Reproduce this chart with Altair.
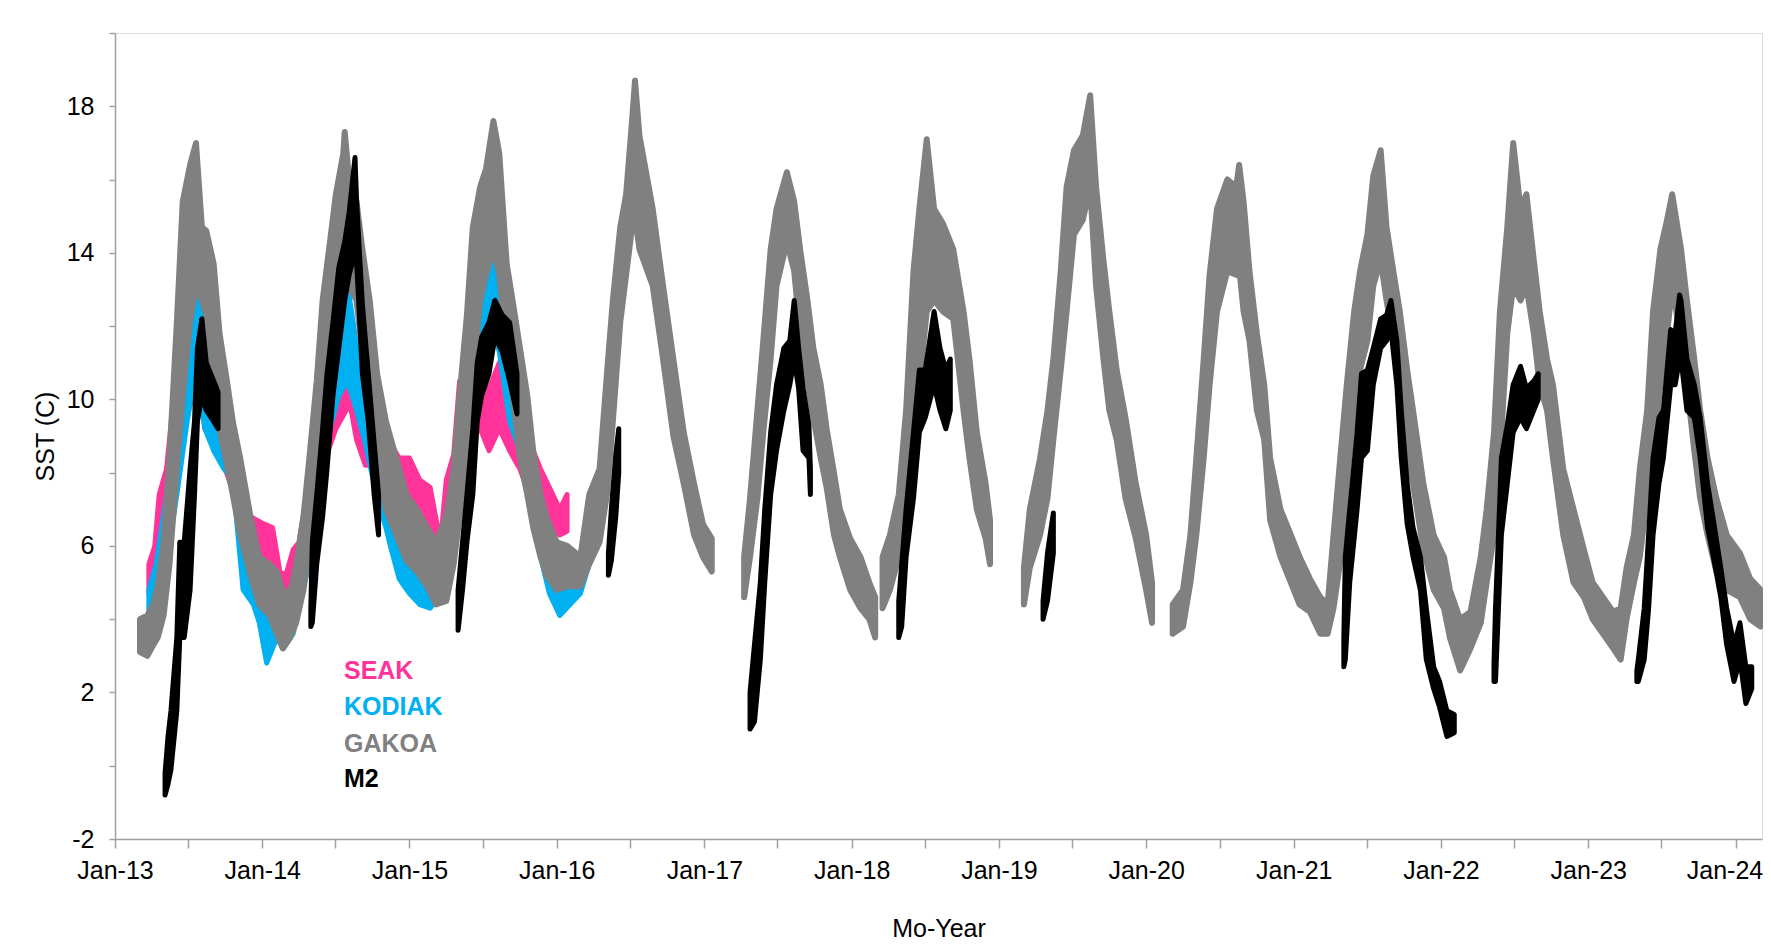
import altair as alt
import pandas as pd

SERIES = ["SEAK", "KODIAK", "GAKOA", "M2"]
COLORS = ["#FF3399", "#00B0F0", "#808080", "#000000"]

# ---- SEAK (decimal year, low / high of the point cloud), None = gap ----
SEAK_T = [2013.23, 2013.27, 2013.30, 2013.35, 2013.40, 2013.46, 2013.53, 2013.58, 2013.61, 2013.67,
          2013.74, 2013.80, 2013.86, 2013.92, 2014.01, 2014.07, 2014.12, 2014.16, 2014.21, 2014.25,
          2014.30, 2014.37, 2014.43, 2014.50, 2014.57, 2014.60, 2014.64, 2014.70, 2014.78, 2014.87,
          2014.93, 2015.00, 2015.07, 2015.14, 2015.21, 2015.25, 2015.30, 2015.34, 2015.41, 2015.48,
          2015.54, 2015.61, 2015.68, 2015.75, 2015.82, 2015.89, 2015.95, 2016.02, 2016.07]
SEAK_LO = [4.7, 5.1, 6.1, 6.8, 8.1, 9.2, 10.1, 10.7, 9.2, 8.8,
           8.2, 7.5, 6.5, 6.0, 5.7, 5.5, 4.4, 4.5, 4.8, 5.2,
           6.1, 7.4, 8.4, 9.2, 9.7, 9.8, 8.9, 8.2, 8.2, 7.4,
           6.8, 7.0, 6.5, 5.9, 5.6, 6.8, 7.0, 8.8, 9.2, 9.2,
           8.6, 9.2, 8.6, 8.1, 7.3, 7.0, 6.5, 6.3, 6.4]
SEAK_HI = [5.5, 6.0, 7.4, 8.1, 10.1, 11.3, 12.3, 12.9, 10.1, 10.0,
           9.0, 8.4, 7.2, 6.8, 6.6, 6.5, 5.3, 5.2, 5.9, 6.1,
           7.4, 8.8, 10.1, 10.5, 11.0, 11.1, 10.5, 9.4, 9.2, 8.8,
           8.4, 8.4, 7.8, 7.6, 6.1, 7.8, 8.5, 10.5, 10.7, 10.5,
           10.3, 11.0, 10.0, 9.4, 8.8, 8.1, 7.6, 7.0, 7.4]

# ---- KODIAK ----
KODIAK_T = [2013.23, 2013.28, 2013.35, 2013.42, 2013.49, 2013.55, 2013.61, 2013.67, 2013.74, 2013.80,
            2013.87, 2013.94, 2013.98, 2014.03, 2014.10, 2014.14, 2014.21, 2014.25, 2014.32, 2014.39,
            2014.46, 2014.52, 2014.58, 2014.64, 2014.70, 2014.78, 2014.84, 2014.87, 2014.93, 2015.00,
            2015.07, 2015.14, 2015.21, 2015.28, 2015.34, 2015.41, 2015.48, 2015.54, 2015.56, 2015.61,
            2015.68, 2015.75, 2015.82, 2015.89, 2015.95, 2016.02, 2016.09, 2016.16, 2016.22, 2016.29]
KODIAK_LO = [4.0, 4.4, 5.5, 7.4, 9.4, 10.8, 9.2, 8.6, 8.1, 7.8,
             4.8, 4.4, 3.9, 2.8, 3.5, 3.2, 3.6, 4.4, 5.5, 7.4,
             9.2, 10.1, 10.5, 9.7, 8.8, 7.3, 6.5, 6.0, 5.1, 4.7,
             4.4, 4.3, 4.7, 5.5, 6.8, 8.8, 10.5, 11.4, 12.0, 11.3,
             9.4, 8.6, 7.3, 5.7, 4.7, 4.1, 4.4, 4.7, 5.5, 6.8]
KODIAK_HI = [4.8, 5.5, 7.4, 10.1, 12.1, 13.7, 11.4, 10.1, 8.8, 8.6,
             6.5, 5.5, 4.8, 4.1, 4.7, 4.4, 4.8, 5.7, 8.1, 9.7,
             11.3, 12.3, 13.1, 11.5, 10.1, 8.6, 7.7, 7.4, 6.8, 6.2,
             6.1, 6.0, 6.2, 7.4, 9.2, 11.4, 12.7, 13.7, 14.1, 13.1,
             11.3, 10.1, 8.6, 7.4, 6.0, 5.3, 5.5, 5.5, 6.8, 7.8]

# ---- GAKOA ----
GAKOA_T = [2013.17, 2013.22, 2013.26, 2013.29, 2013.33, 2013.37, 2013.42, 2013.46, 2013.51, 2013.55,
           2013.59, 2013.62, 2013.67, 2013.71, 2013.76, 2013.80, 2013.85, 2013.92, 2013.98, 2014.05,
           2014.10, 2014.14, 2014.19, 2014.23, 2014.28, 2014.32, 2014.37, 2014.41, 2014.46, 2014.50,
           2014.55, 2014.56, 2014.59, 2014.64, 2014.68, 2014.73, 2014.78, 2014.84, 2014.91, 2014.98,
           2015.05, 2015.12, 2015.18, 2015.25, 2015.30, 2015.34, 2015.39, 2015.43, 2015.48, 2015.52,
           2015.57, 2015.61, 2015.66, 2015.70, 2015.75, 2015.80, 2015.84, 2015.89, 2015.93, 2016.00,
           2016.07, 2016.16, 2016.22, 2016.29, 2016.34, 2016.38, 2016.43, 2016.47, 2016.51, 2016.53,
           2016.56, 2016.65, 2016.72, 2016.79, 2016.86, 2016.93, 2016.99, 2017.05, None,
           2017.27, 2017.31, 2017.36, 2017.40, 2017.45, 2017.49, 2017.56, 2017.61, 2017.65, 2017.70,
           2017.74, 2017.79, 2017.83, 2017.88, 2017.92, 2017.99, 2018.06, 2018.12, 2018.16, None,
           2018.21, 2018.26, 2018.32, 2018.37, 2018.42, 2018.46, 2018.51, 2018.56, 2018.62, 2018.69,
           2018.76, 2018.80, 2018.85, 2018.91, 2018.94, None,
           2019.17, 2019.21, 2019.28, 2019.33, 2019.37, 2019.42, 2019.46, 2019.51, 2019.57, 2019.62,
           2019.66, 2019.71, 2019.75, 2019.80, 2019.86, 2019.93, 2020.00, 2020.04, None,
           2020.18, 2020.25, 2020.30, 2020.34, 2020.39, 2020.43, 2020.48, 2020.55, 2020.61, 2020.63,
           2020.66, 2020.70, 2020.75, 2020.80, 2020.84, 2020.91, 2020.98, 2021.04, 2021.11, 2021.18,
           2021.23, 2021.27, 2021.32, 2021.36, 2021.41, 2021.45, 2021.50, 2021.54, 2021.59, 2021.63,
           2021.68, 2021.72, 2021.77, 2021.81, 2021.88, 2021.95, 2022.02, 2022.06, 2022.13, 2022.20,
           2022.27, 2022.31, 2022.36, 2022.40, 2022.45, 2022.49, 2022.54, 2022.58, 2022.63, 2022.67,
           2022.72, 2022.76, 2022.83, 2022.90, 2022.97, 2023.03, 2023.10, 2023.17, 2023.22, 2023.26,
           2023.31, 2023.35, 2023.40, 2023.44, 2023.49, 2023.53, 2023.57, 2023.63, 2023.67, 2023.72,
           2023.76, 2023.81, 2023.87, 2023.94, 2024.03, 2024.10, 2024.17]
GAKOA_LO = [3.1, 3.0, 3.3, 3.5, 4.1, 5.5, 8.1, 10.1, 12.1, 13.1,
            12.7, 12.3, 10.5, 9.2, 8.2, 7.4, 6.3, 5.2, 4.4, 4.1,
            3.6, 3.2, 3.5, 3.9, 4.8, 6.0, 7.4, 9.4, 10.7, 12.7,
            13.4, 13.6, 13.1, 12.7, 11.3, 9.7, 8.4, 7.0, 6.3, 5.6,
            5.3, 4.9, 4.4, 4.5, 5.5, 6.8, 8.8, 10.7, 12.7, 13.4,
            14.1, 13.4, 11.4, 10.1, 8.4, 7.4, 6.5, 5.7, 5.2, 4.8,
            4.9, 4.9, 5.5, 6.1, 7.4, 9.4, 12.1, 13.4, 14.7, 15.0,
            14.1, 13.1, 11.1, 9.0, 7.7, 6.3, 5.7, 5.3, None,
            4.6, 5.7, 7.3, 9.1, 11.1, 13.1, 14.3, 13.5, 11.8, 10.4,
            9.5, 8.4, 7.6, 6.3, 5.7, 4.8, 4.3, 4.0, 3.5, None,
            4.3, 4.8, 5.7, 6.3, 8.4, 10.4, 12.4, 12.7, 12.4, 12.2,
            9.7, 8.4, 7.0, 6.2, 5.5, None,
            4.4, 5.4, 6.3, 7.3, 8.9, 10.8, 12.4, 14.5, 14.9, 15.8,
            13.1, 11.1, 9.7, 8.9, 7.3, 6.2, 4.8, 3.9, None,
            3.6, 3.8, 5.0, 6.3, 8.4, 10.4, 12.4, 13.5, 13.4, 13.6,
            12.4, 11.6, 9.7, 8.9, 6.7, 5.7, 5.0, 4.4, 4.2, 3.6,
            3.6, 4.3, 5.7, 7.7, 9.7, 10.8, 11.6, 13.1, 13.8, 12.7,
            11.6, 10.4, 8.4, 7.7, 5.9, 4.8, 4.3, 3.5, 2.6, 3.2,
            3.9, 5.0, 6.3, 8.4, 11.8, 13.1, 12.7, 13.1, 11.8, 10.4,
            9.7, 8.4, 6.3, 5.0, 4.6, 4.0, 3.6, 3.2, 2.9, 4.0,
            5.0, 5.7, 7.3, 8.4, 10.4, 11.6, 13.1, 11.6, 10.4, 8.6,
            7.3, 6.3, 5.3, 4.8, 4.6, 4.0, 3.8]
GAKOA_HI = [4.0, 4.1, 4.4, 4.9, 6.1, 8.4, 12.1, 15.4, 16.4, 17.0,
            14.7, 14.6, 13.7, 11.8, 10.5, 9.4, 8.4, 6.8, 5.7, 5.5,
            5.3, 4.8, 4.7, 5.5, 6.8, 8.4, 10.5, 12.7, 14.3, 15.6,
            16.7, 17.3, 16.0, 15.4, 14.1, 12.7, 10.7, 9.4, 8.4, 7.4,
            7.0, 6.5, 6.1, 6.8, 8.1, 10.1, 12.3, 14.7, 15.8, 16.3,
            17.6, 16.7, 13.7, 12.7, 11.4, 10.1, 8.6, 7.4, 6.8, 6.1,
            6.0, 5.7, 7.4, 8.1, 10.7, 12.7, 14.7, 15.6, 17.6, 18.7,
            17.2, 15.2, 13.1, 11.1, 9.1, 7.7, 6.6, 6.2, None,
            5.7, 7.3, 9.7, 11.6, 14.1, 15.2, 16.2, 15.4, 14.1, 12.7,
            11.4, 10.4, 9.2, 8.0, 7.0, 6.2, 5.7, 5.0, 4.6, None,
            5.7, 6.3, 7.4, 9.7, 13.5, 15.2, 17.1, 15.2, 14.8, 14.1,
            12.4, 11.1, 9.1, 7.7, 6.7, None,
            5.4, 7.0, 8.4, 9.7, 11.1, 13.5, 15.8, 16.8, 17.2, 18.3,
            15.8, 13.8, 12.4, 10.8, 9.5, 7.7, 6.3, 5.0, None,
            4.4, 4.8, 6.3, 8.4, 11.1, 13.4, 15.2, 16.0, 15.8, 16.4,
            15.4, 13.5, 11.8, 10.4, 8.4, 7.0, 6.3, 5.7, 5.1, 4.6,
            4.4, 6.3, 8.6, 10.4, 12.4, 13.5, 14.5, 16.1, 16.8, 14.7,
            13.4, 12.4, 10.8, 9.7, 7.7, 6.3, 5.7, 4.8, 4.0, 4.2,
            5.7, 7.0, 9.1, 12.4, 14.7, 17.0, 15.2, 15.6, 13.8, 12.4,
            11.1, 10.4, 8.1, 7.0, 5.9, 5.0, 4.6, 4.2, 4.3, 5.4,
            6.3, 8.1, 9.7, 12.4, 14.1, 14.8, 15.6, 14.1, 12.7, 11.1,
            9.7, 8.4, 7.3, 6.3, 5.8, 5.1, 4.8]

# ---- M2 ----
M2_T = [2013.34, 2013.36, 2013.38, 2013.42, 2013.44, 2013.47, 2013.51, 2013.54, 2013.56, 2013.59,
        2013.62, 2013.67, 2013.70, None,
        2014.33, 2014.34, 2014.37, 2014.41, 2014.44, 2014.48, 2014.52, 2014.56, 2014.59, 2014.63,
        2014.64, 2014.66, 2014.68, 2014.72, 2014.76, 2014.79, None,
        2015.33, 2015.36, 2015.39, 2015.43, 2015.46, 2015.49, 2015.54, 2015.58, 2015.63, 2015.68,
        2015.73, None,
        2016.35, 2016.37, 2016.40, 2016.42, None,
        2017.31, 2017.34, 2017.38, 2017.41, 2017.45, 2017.49, 2017.54, 2017.58, 2017.61, 2017.64,
        2017.67, 2017.71, 2017.72, None,
        2018.32, 2018.34, 2018.37, 2018.42, 2018.46, 2018.50, 2018.56, 2018.60, 2018.64, 2018.67, None,
        2019.30, 2019.33, 2019.37, None,
        2021.34, 2021.35, 2021.38, 2021.43, 2021.46, 2021.50, 2021.54, 2021.59, 2021.63, 2021.66,
        2021.70, 2021.73, 2021.77, 2021.81, 2021.86, 2021.90, 2021.95, 2021.99, 2022.04, 2022.09, None,
        2022.36, 2022.37, 2022.39, 2022.41, 2022.45, 2022.49, 2022.54, 2022.58, 2022.63, 2022.66, None,
        2023.33, 2023.34, 2023.38, 2023.41, 2023.44, 2023.48, 2023.51, 2023.56, 2023.59, 2023.62,
        2023.63, 2023.67, 2023.72, 2023.76, 2023.81, 2023.85, 2023.90, 2023.94, 2023.99, 2024.03,
        2024.07, 2024.11]
M2_LO = [-0.8, -0.5, -0.1, 1.5, 3.5, 3.5, 4.8, 7.4, 9.4, 10.1,
         9.7, 9.4, 9.2, None,
         3.8, 3.9, 5.5, 6.8, 8.1, 10.1, 11.4, 12.7, 13.4, 14.0,
         13.8, 12.3, 10.7, 9.4, 7.4, 6.3, None,
         3.7, 4.8, 6.1, 7.4, 9.4, 10.1, 10.7, 11.7, 11.3, 10.5,
         9.6, None,
         5.2, 5.6, 6.8, 8.0, None,
         1.0, 1.2, 2.9, 5.0, 7.4, 8.6, 9.7, 10.4, 11.1, 10.3,
         8.6, 8.4, 7.4, None,
         3.5, 3.8, 5.7, 7.3, 9.1, 9.5, 10.4, 9.7, 9.2, 9.7, None,
         4.0, 4.5, 5.8, None,
         2.7, 2.9, 5.0, 7.0, 8.4, 8.6, 10.4, 11.4, 11.6, 11.9,
         10.4, 8.4, 6.6, 5.7, 4.8, 2.9, 2.1, 1.6, 0.8, 0.9, None,
         2.3, 2.3, 4.3, 6.3, 7.7, 9.1, 9.5, 9.2, 9.7, 10.0, None,
         2.3, 2.3, 2.9, 4.3, 6.3, 7.7, 8.4, 10.4, 10.4, 11.1,
         11.1, 9.7, 9.5, 8.4, 6.5, 5.7, 4.6, 3.3, 2.3, 2.9,
         1.7, 2.1]
M2_HI = [-0.2, 0.8, 1.5, 3.5, 6.1, 6.1, 8.1, 9.4, 11.4, 12.2,
         11.0, 10.5, 10.2, None,
         4.3, 6.1, 7.4, 9.2, 10.7, 12.1, 13.6, 14.3, 15.1, 16.6,
         15.5, 14.0, 12.6, 10.7, 8.8, 7.4, None,
         4.8, 6.1, 7.4, 9.2, 11.0, 11.7, 12.1, 12.7, 12.3, 12.1,
         10.7, None,
         5.8, 7.0, 8.5, 9.2, None,
         2.0, 3.3, 5.0, 7.0, 9.1, 10.4, 11.4, 11.6, 12.7, 11.4,
         10.3, 9.3, 8.1, None,
         4.5, 5.5, 7.0, 9.1, 10.8, 10.8, 12.4, 11.4, 10.8, 11.1, None,
         4.5, 5.8, 6.9, None,
         3.5, 5.7, 7.0, 9.1, 10.7, 10.8, 11.4, 12.2, 12.3, 12.7,
         11.6, 9.7, 7.7, 6.5, 5.7, 4.3, 2.7, 2.3, 1.5, 1.4, None,
         2.8, 4.3, 6.3, 8.4, 9.3, 10.4, 10.9, 10.3, 10.5, 10.7, None,
         2.6, 2.9, 4.3, 6.3, 8.4, 9.5, 9.7, 11.9, 11.8, 12.85,
         12.7, 11.1, 10.4, 9.5, 7.7, 6.7, 5.4, 4.3, 3.3, 3.9,
         2.7, 2.7]

# ---- in-plot legend text (position in data units) ----
LEGEND_T = 2014.555
LEGEND_V = [2.59, 1.61, 0.60, -0.36]

X_TICK_YEARS = list(range(2013, 2025))
Y_TICKS = list(range(-2, 21, 2))


def to_date(y):
    yr = int(y)
    a = pd.Timestamp(year=yr, month=1, day=1)
    b = pd.Timestamp(year=yr + 1, month=1, day=1)
    return a + (b - a) * (y - yr)


rows = []
for name, T, LO, HI in [("SEAK", SEAK_T, SEAK_LO, SEAK_HI),
                        ("KODIAK", KODIAK_T, KODIAK_LO, KODIAK_HI),
                        ("GAKOA", GAKOA_T, GAKOA_LO, GAKOA_HI),
                        ("M2", M2_T, M2_LO, M2_HI)]:
    seg = 0
    for t, lo, hi in zip(T, LO, HI):
        if t is None:
            seg += 1
            continue
        rows.append({"series": name, "seg": f"{name}-{seg}", "date": to_date(t), "lo": lo, "hi": hi})
df = pd.DataFrame(rows)

leg_df = pd.DataFrame({"series": SERIES, "date": [to_date(LEGEND_T)] * 4, "lo": LEGEND_V})

FONT = "Liberation Sans"
AXIS_GRAY = "#A0A0A0"
STROKES = {"SEAK": 5, "KODIAK": 5, "GAKOA": 6, "M2": 5}

x_ticks = []
for y in X_TICK_YEARS:
    x_ticks.append(alt.DateTime(year=y, month=1, date=1))
    if y < 2024:
        x_ticks.append(alt.DateTime(year=y, month=7, date=1))

x_enc = alt.X(
    "date:T",
    title="Mo-Year",
    scale=alt.Scale(domain=[alt.DateTime(year=2013, month=1, date=1),
                            alt.DateTime(year=2024, month=3, date=6, hours=16)]),
    axis=alt.Axis(values=x_ticks,
                  labelExpr="month(datum.value) == 0 ? timeFormat(datum.value, '%b-%y') : ''",
                  labelOffset={"condition": {"test": "year(datum.value) == 2024", "value": -11}, "value": 0},
                  tickSize=9, labelPadding=10, labelFlush=False, labelOverlap=False,
                  grid=False, domainColor=AXIS_GRAY, tickColor=AXIS_GRAY,
                  domainWidth=1.5, tickWidth=1.5,
                  labelFont=FONT, labelFontSize=25, labelColor="#000000",
                  titleFont=FONT, titleFontSize=25, titleFontWeight="normal",
                  titleColor="#000000", titlePadding=33),
)
y_enc = alt.Y(
    "lo:Q",
    title="SST (C)",
    stack=False,
    scale=alt.Scale(domain=[-2, 20], nice=False, zero=False),
    axis=alt.Axis(values=Y_TICKS,
                  labelExpr="(datum.value + 2) % 4 == 0 ? '' + datum.value : ''",
                  tickSize=6, labelPadding=15, labelOverlap=False,
                  grid=False, domainColor=AXIS_GRAY, tickColor=AXIS_GRAY,
                  domainWidth=1.5, tickWidth=1.5,
                  labelFont=FONT, labelFontSize=25, labelColor="#000000",
                  titleFont=FONT, titleFontSize=25, titleFontWeight="normal",
                  titleColor="#000000", titlePadding=8),
)

layers = []
for name, col in zip(SERIES, COLORS):
    layers.append(
        alt.Chart(df)
        .transform_filter(alt.datum.series == name)
        .mark_area(color=col, stroke=col, strokeWidth=STROKES[name], strokeJoin="round", opacity=1)
        .encode(x=x_enc, y=y_enc, y2="hi:Q", detail="seg:N")
    )

legend_text = (
    alt.Chart(leg_df)
    .mark_text(align="left", baseline="middle", font=FONT, fontSize=25, fontWeight="bold")
    .encode(x=x_enc, y=y_enc, text="series:N",
            color=alt.Color("series:N", scale=alt.Scale(domain=SERIES, range=COLORS), legend=None))
)

chart = (
    alt.layer(*layers, legend_text)
    .properties(width=1647, height=806,
                padding={"left": 107, "top": 25, "right": 1, "bottom": 104},
                autosize=alt.AutoSizeParams(type="none"))
    .configure_view(stroke=AXIS_GRAY, strokeWidth=1.5)
    .configure(background="#FFFFFF")
)

chart.save("out.html", embed_options={"renderer": "svg", "actions": False})
